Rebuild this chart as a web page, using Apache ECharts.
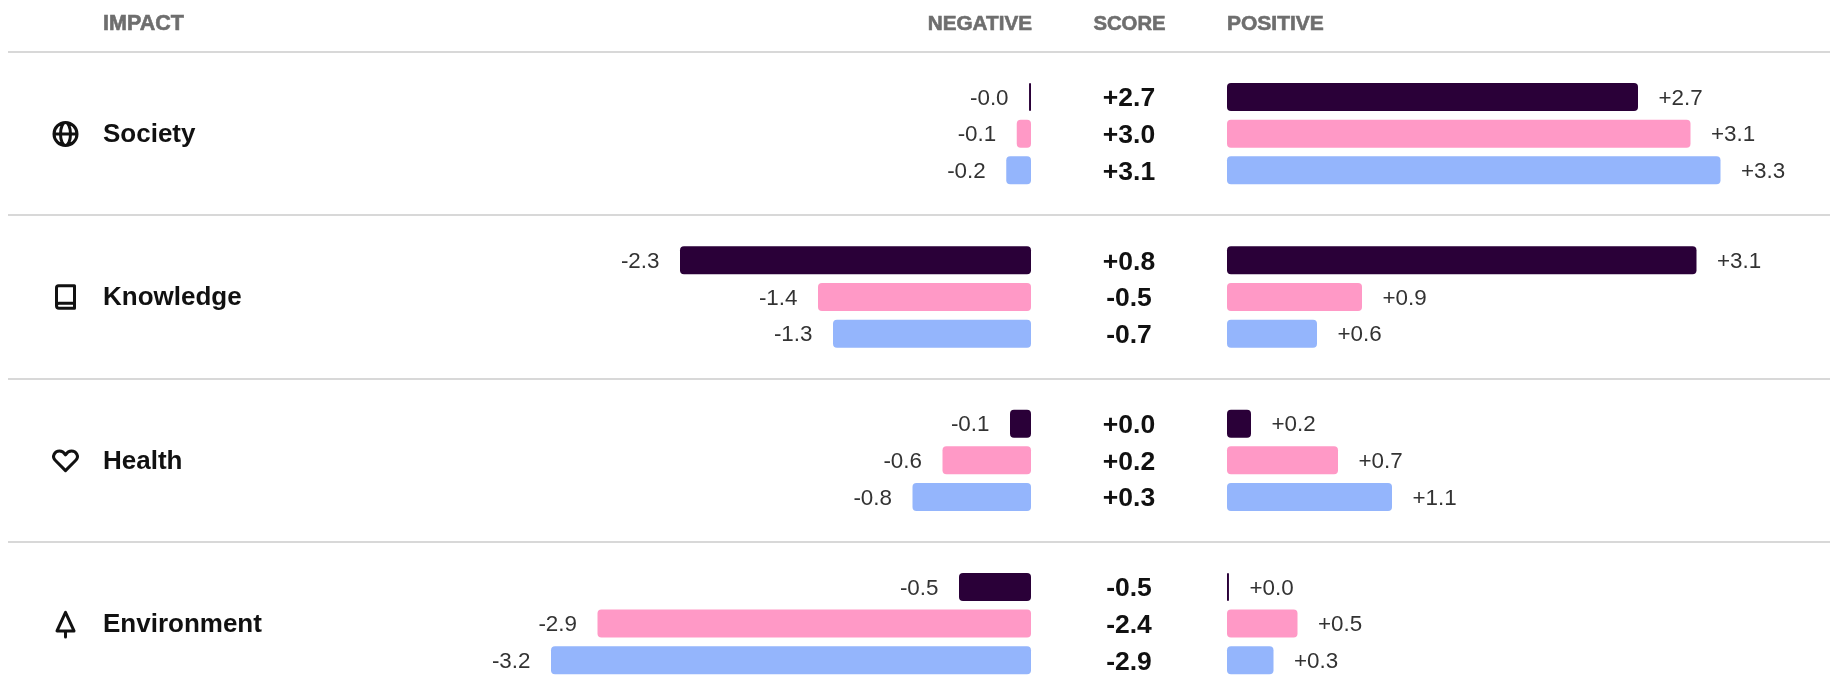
<!DOCTYPE html>
<html>
<head>
<meta charset="utf-8">
<title>Impact</title>
<script src="https://cdn.jsdelivr.net/npm/echarts@6/dist/echarts.min.js"></script>
<style>
html, body { margin: 0; padding: 0; background: #fff; }
#chart { width: 1830px; height: 698px; }
</style>
</head>
<body>
<div id="chart"></div>
<script>
var rowNames = ['Society', 'Knowledge', 'Health', 'Environment'];

// bar lengths, one row of three per impact
var negativeValues = [
    [-0.013, -0.095, -0.165],
    [-2.34, -1.42, -1.32],
    [-0.14, -0.59, -0.79],
    [-0.48, -2.89, -3.2]
];
var positiveValues = [
    [2.74, 3.09, 3.29],
    [3.13, 0.9, 0.6],
    [0.16, 0.74, 1.1],
    [0.013, 0.47, 0.31]
];
var negativeLabels = [
    ['-0.0', '-0.1', '-0.2'],
    ['-2.3', '-1.4', '-1.3'],
    ['-0.1', '-0.6', '-0.8'],
    ['-0.5', '-2.9', '-3.2']
];
var positiveLabels = [
    ['+2.7', '+3.1', '+3.3'],
    ['+3.1', '+0.9', '+0.6'],
    ['+0.2', '+0.7', '+1.1'],
    ['+0.0', '+0.5', '+0.3']
];
var scoreLabels = [
    ['+2.7', '+3.0', '+3.1'],
    ['+0.8', '-0.5', '-0.7'],
    ['+0.0', '+0.2', '+0.3'],
    ['-0.5', '-2.4', '-2.9']
];
var barColors = ['#2a0038', '#ff99c6', '#94b5fc'];

var rowIcons = [
    'M-11.5 0a11.5 11.5 0 1 0 23 0a11.5 11.5 0 1 0 -23 0M-11.5 0H11.5M-5 0a5 11.5 0 1 0 10 0a5 11.5 0 1 0 -10 0',
    'M-9 9V-9.5a2 2 0 0 1 2 -2H9V11H-6.5a2.5 2.5 0 0 1 -2.5 -2.5a2.5 2.5 0 0 1 2.5 -2.5H9',
    'M0 10L-9.8 0.2C-14.5 -4.5 -10.5 -9.5 -6 -9.5C-3.5 -9.5 -1.5 -8 0 -5.8C1.5 -8 3.5 -9.5 6 -9.5C10.5 -9.5 14.5 -4.5 9.8 0.2Z',
    'M0 -11.5L-8.5 7H8.5ZM0 7V13'
];

var rowTop = 78.7, rowStep = 163.3, rowHeight = 110;
var dividers = [52, 215, 379, 542];
var textFont = '"Liberation Sans", Arial, sans-serif';

var grids = [], xAxes = [], yAxes = [], series = [];

function addPane(rowIndex, left, min, max, values, labels, position, categories, axisLabel) {
    var index = grids.length;
    grids.push({ left: left, top: rowTop + rowIndex * rowStep, width: 600, height: rowHeight });
    xAxes.push({ type: 'value', gridIndex: index, min: min, max: max, show: false });
    yAxes.push({
        type: 'category',
        gridIndex: index,
        inverse: true,
        data: categories,
        axisLine: { show: false },
        axisTick: { show: false },
        axisLabel: axisLabel
    });
    series.push({
        type: 'bar',
        xAxisIndex: index,
        yAxisIndex: index,
        barWidth: 28,
        silent: true,
        data: values.map(function (v, i) {
            return { value: v, itemStyle: { color: barColors[i], borderRadius: 4 } };
        }),
        label: {
            show: true,
            position: position,
            distance: 20.5,
            offset: [0, 1.5],
            fontFamily: textFont,
            fontSize: 22.4,
            color: '#333',
            formatter: function (p) {
                return labels[p.dataIndex];
            }
        }
    });
}

rowNames.forEach(function (name, r) {
    addPane(r, 431, -4, 0, negativeValues[r], negativeLabels[r], 'left', negativeLabels[r], { show: false });
    // score column is the category label of the positive pane
    addPane(r, 1227, 0, 4, positiveValues[r], positiveLabels[r], 'right', scoreLabels[r], {
        show: true,
        align: 'center',
        margin: 98,
        formatter: '{score|{value}}',
        rich: {
            score: {
                padding: [4, 0, 0, 0],
                fontFamily: textFont,
                fontWeight: 'bold',
                fontSize: 26.5,
                color: '#111'
            }
        }
    });
});

var graphics = [];

function headerText(text, x, align, size) {
    graphics.push({
        type: 'text',
        x: x,
        y: 24,
        style: {
            text: text,
            fontFamily: textFont,
            fontWeight: 'bold',
            fontSize: size,
            fill: '#6e6e6e',
            stroke: '#6e6e6e',
            lineWidth: 0.6,
            align: align,
            verticalAlign: 'middle'
        }
    });
}
headerText('IMPACT', 103, 'left', 21.5);
headerText('NEGATIVE', 1032, 'right', 20.7);
headerText('SCORE', 1129.5, 'center', 20.3);
headerText('POSITIVE', 1227, 'left', 21);

dividers.forEach(function (y) {
    graphics.push({
        type: 'line',
        shape: { x1: 8, y1: y, x2: 1830, y2: y },
        style: { stroke: '#d8d8d8', lineWidth: 2 }
    });
});

rowNames.forEach(function (name, r) {
    var y = 134 + r * rowStep;
    // graphic has no plain path type, so each icon is registered as a shape
    echarts.graphic.registerShape('rowIcon' + r, echarts.graphic.extendPath(rowIcons[r], {}));
    graphics.push({
        type: 'rowIcon' + r,
        x: 65.5,
        y: y,
        style: { fill: 'none', stroke: '#111', lineWidth: 3, lineJoin: 'round', lineCap: 'round' }
    });
    graphics.push({
        type: 'text',
        x: 103,
        y: y + 1,
        style: {
            text: name,
            fontFamily: textFont,
            fontWeight: 'bold',
            fontSize: 26,
            fill: '#111',
            verticalAlign: 'middle'
        }
    });
});

var myChart = echarts.init(document.getElementById('chart'));
myChart.setOption({
    animation: false,
    backgroundColor: '#fff',
    grid: grids,
    xAxis: xAxes,
    yAxis: yAxes,
    series: series,
    graphic: graphics
});
</script>
</body>
</html>
